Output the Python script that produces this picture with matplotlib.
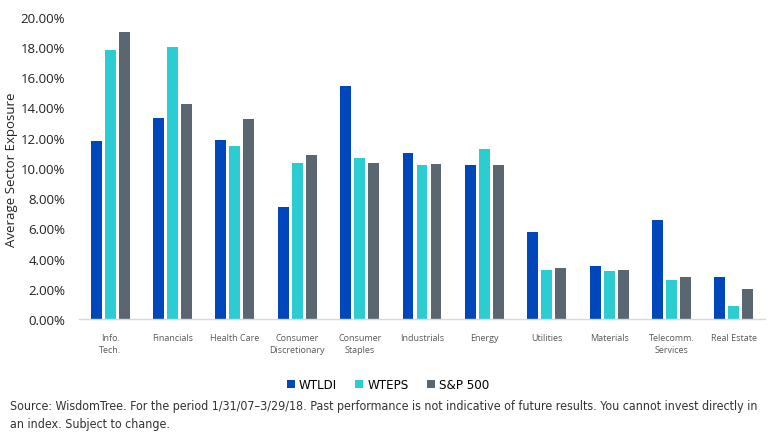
import matplotlib
matplotlib.use("Agg")
import matplotlib.pyplot as plt
import numpy as np
from matplotlib import font_manager

categories = ["Info.\nTech.", "Financials", "Health Care", "Consumer\nDiscretionary",
              "Consumer\nStaples", "Industrials", "Energy", "Utilities", "Materials",
              "Telecomm.\nServices", "Real Estate"]
wtldi = [11.8, 13.3, 11.85, 7.4, 15.4, 11.0, 10.2, 5.75, 3.5, 6.55, 2.8]
wteps = [17.8, 18.0, 11.45, 10.35, 10.65, 10.2, 11.25, 3.25, 3.2, 2.6, 0.85]
sp500 = [19.0, 14.2, 13.25, 10.85, 10.35, 10.25, 10.2, 3.4, 3.25, 2.8, 2.0]
series_names = ["WTLDI", "WTEPS", "S&P 500"]
yticks = [0, 2, 4, 6, 8, 10, 12, 14, 16, 18, 20]

colors = ["#0047BB", "#2CCCD3", "#5B6770"]

cond = [f for f in font_manager.fontManager.ttflist
        if f.name == "DejaVu Sans" and str(f.stretch).lower() in ("condensed", "semi-condensed") and f.weight in (400, "normal")]
if cond:
    src_font = {"family": "DejaVu Sans", "stretch": "condensed"}
else:
    src_font = {"family": "Liberation Sans"}

fig = plt.figure(figsize=(7.72, 4.39), dpi=100)
ax = fig.add_axes([79/772, 1 - 320/439, (765-79)/772, (320-14)/439])

x = np.arange(len(categories))
w = 0.175
off = 0.225
for i, (vals, c, n) in enumerate(zip([wtldi, wteps, sp500], colors, series_names)):
    ax.bar(x + (i - 1) * off, vals, width=w, color=c, label=n)

ax.set_xlim(-0.5, len(categories) - 0.5)
ax.set_ylim(0, 20.25)
ax.set_yticks(yticks)
ax.set_yticklabels([f"{v:.2f}%" for v in yticks], fontsize=9.5, color="#222222", family="Open Sans")
ax.set_xticks(x)
ax.set_xticklabels(categories, fontsize=6.5, color="#595959", family="Open Sans", linespacing=1.4)
ax.tick_params(axis="both", length=0)
ax.tick_params(axis="y", pad=10)
ax.tick_params(axis="x", pad=10)
for s in ["top", "right", "left"]:
    ax.spines[s].set_visible(False)
ax.spines["bottom"].set_color("#D9D9D9")
ax.spines["bottom"].set_linewidth(1.0)

fig.text(12/772, 1 - 170/439, "Average Sector Exposure", rotation=90, va="center", ha="center",
         fontsize=9.5, color="#222222", family="Open Sans")

leg = fig.legend(loc="center", bbox_to_anchor=(388/772, 1 - 386/439), ncol=3, frameon=False,
                 prop=dict(src_font, size=9.5), handlelength=0.6, handleheight=0.6,
                 handletextpad=0.3, columnspacing=1.4)

t1 = fig.text(10/772, 1 - 407/439,
              "Source: WisdomTree. For the period 1/31/07\u20133/29/18. Past performance is not indicative of future results. You cannot invest directly in",
              fontsize=10, color="#333333", va="center", ha="left", **src_font)
t2 = fig.text(10/772, 1 - 425/439, "an index. Subject to change.",
              fontsize=10, color="#333333", va="center", ha="left", **src_font)

# shrink source text to fit the target width (~750 px)
fig.canvas.draw()
r = fig.canvas.get_renderer()
wpx = t1.get_window_extent(r).width
target = 752.0
if wpx > target:
    s = 10 * target / wpx
    t1.set_fontsize(s)
    t2.set_fontsize(s)

fig.savefig("out.png", dpi=100)
